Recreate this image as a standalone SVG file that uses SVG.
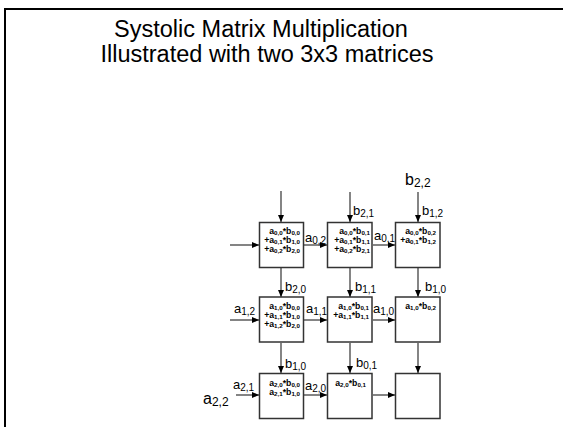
<svg xmlns="http://www.w3.org/2000/svg" width="563" height="427" viewBox="0 0 563 427">
<style>
text{font-family:"Liberation Sans",Arial,sans-serif;fill:#000}
.t{font-size:23.5px;text-anchor:middle}
.bt{font-size:8.7px;font-weight:bold;text-anchor:end}
.bs{font-size:6.2px}
.l{font-size:13px}
.ls{font-size:10px}
.L{font-size:16px}
.Ls{font-size:12px}
.box{fill:#fff;stroke:#333;stroke-width:1.5}
.c line{stroke:#333;stroke-width:1.2;marker-end:url(#ah)}
</style>
<defs>
<marker id="ah" markerUnits="userSpaceOnUse" markerWidth="7" markerHeight="6" refX="7" refY="3" orient="auto">
<path d="M0,0 L7,3 L0,6 z" fill="#000"/>
</marker>
</defs>
<rect width="563" height="427" fill="#fff"/>
<path d="M5,427 V9 H563" fill="none" stroke="#000" stroke-width="2"/>
<g id="title">
<text class="t" x="261" y="37">Systolic Matrix Multiplication</text>
<text class="t" x="267" y="62">Illustrated with two 3x3 matrices</text>
</g>
<g class="c" id="connectors">
<line x1="281" y1="191" x2="281" y2="222"/>
<line x1="350" y1="192" x2="350" y2="222"/>
<line x1="418" y1="192" x2="418" y2="222"/>
<line x1="230" y1="245" x2="259" y2="245"/>
<line x1="304" y1="245" x2="327" y2="245"/>
<line x1="373" y1="245" x2="395" y2="245"/>
<line x1="281" y1="268" x2="281" y2="297"/>
<line x1="350" y1="268" x2="350" y2="297"/>
<line x1="418" y1="268" x2="418" y2="297"/>
<line x1="230" y1="320" x2="259" y2="320"/>
<line x1="304" y1="320" x2="327" y2="320"/>
<line x1="373" y1="320" x2="395" y2="320"/>
<line x1="281" y1="343" x2="281" y2="373"/>
<line x1="350" y1="343" x2="350" y2="373"/>
<line x1="418" y1="343" x2="418" y2="373"/>
<line x1="236" y1="395" x2="259" y2="395"/>
<line x1="304" y1="395" x2="327" y2="395"/>
<line x1="373" y1="395" x2="395" y2="395"/>
</g>
<g id="labels">
<text class="L" x="405" y="185">b<tspan class="Ls" dy="2">2,2</tspan></text>
<text class="l" x="353" y="215">b<tspan class="ls" dy="2">2,1</tspan></text>
<text class="l" x="422" y="215">b<tspan class="ls" dy="2">1,2</tspan></text>
<text class="l" x="305" y="242">a<tspan class="ls" dy="2">0,2</tspan></text>
<text class="l" x="374" y="240">a<tspan class="ls" dy="2">0,1</tspan></text>
<text class="l" x="285" y="291">b<tspan class="ls" dy="2">2,0</tspan></text>
<text class="l" x="355" y="291">b<tspan class="ls" dy="2">1,1</tspan></text>
<text class="l" x="425" y="291">b<tspan class="ls" dy="2">1,0</tspan></text>
<text class="l" x="234" y="313">a<tspan class="ls" dy="2">1,2</tspan></text>
<text class="l" x="306" y="313">a<tspan class="ls" dy="2">1,1</tspan></text>
<text class="l" x="373" y="313">a<tspan class="ls" dy="2">1,0</tspan></text>
<text class="l" x="285" y="368">b<tspan class="ls" dy="2">1,0</tspan></text>
<text class="l" x="356" y="367">b<tspan class="ls" dy="2">0,1</tspan></text>
<text class="l" x="233" y="389">a<tspan class="ls" dy="2">2,1</tspan></text>
<text class="L" x="203" y="404">a<tspan class="Ls" dy="2">2,2</tspan></text>
<text class="l" x="305" y="390">a<tspan class="ls" dy="2">2,0</tspan></text>
</g>
<g id="pe00">
<rect class="box" x="259.5" y="222.5" width="44" height="45"/>
<text class="bt"><tspan x="300" y="234">a</tspan><tspan class="bs" dy="1">0,0</tspan><tspan dy="-1">*b</tspan><tspan class="bs" dy="1">0,0</tspan><tspan x="300" y="243">+a</tspan><tspan class="bs" dy="1">0,1</tspan><tspan dy="-1">*b</tspan><tspan class="bs" dy="1">1,0</tspan><tspan x="300" y="252">+a</tspan><tspan class="bs" dy="1">0,2</tspan><tspan dy="-1">*b</tspan><tspan class="bs" dy="1">2,0</tspan></text>
</g>
<g id="pe01">
<rect class="box" x="327.5" y="222.5" width="44.5" height="45"/>
<text class="bt"><tspan x="370" y="234">a</tspan><tspan class="bs" dy="1">0,0</tspan><tspan dy="-1">*b</tspan><tspan class="bs" dy="1">0,1</tspan><tspan x="370" y="243">+a</tspan><tspan class="bs" dy="1">0,1</tspan><tspan dy="-1">*b</tspan><tspan class="bs" dy="1">1,1</tspan><tspan x="370" y="252">+a</tspan><tspan class="bs" dy="1">0,2</tspan><tspan dy="-1">*b</tspan><tspan class="bs" dy="1">2,1</tspan></text>
</g>
<g id="pe02">
<rect class="box" x="395.5" y="222.5" width="44.5" height="45"/>
<text class="bt"><tspan x="436" y="234">a</tspan><tspan class="bs" dy="1">0,0</tspan><tspan dy="-1">*b</tspan><tspan class="bs" dy="1">0,2</tspan><tspan x="436" y="243">+a</tspan><tspan class="bs" dy="1">0,1</tspan><tspan dy="-1">*b</tspan><tspan class="bs" dy="1">1,2</tspan></text>
</g>
<g id="pe10">
<rect class="box" x="259.5" y="297" width="44" height="45"/>
<text class="bt"><tspan x="300" y="308.5">a</tspan><tspan class="bs" dy="1">1,0</tspan><tspan dy="-1">*b</tspan><tspan class="bs" dy="1">0,0</tspan><tspan x="300" y="317.5">+a</tspan><tspan class="bs" dy="1">1,1</tspan><tspan dy="-1">*b</tspan><tspan class="bs" dy="1">1,0</tspan><tspan x="300" y="326.5">+a</tspan><tspan class="bs" dy="1">1,2</tspan><tspan dy="-1">*b</tspan><tspan class="bs" dy="1">2,0</tspan></text>
</g>
<g id="pe11">
<rect class="box" x="327.5" y="297" width="44.5" height="45"/>
<text class="bt"><tspan x="369" y="308.5">a</tspan><tspan class="bs" dy="1">1,0</tspan><tspan dy="-1">*b</tspan><tspan class="bs" dy="1">0,1</tspan><tspan x="369" y="317.5">+a</tspan><tspan class="bs" dy="1">1,1</tspan><tspan dy="-1">*b</tspan><tspan class="bs" dy="1">1,1</tspan></text>
</g>
<g id="pe12">
<rect class="box" x="395.5" y="297" width="44.5" height="45"/>
<text class="bt"><tspan x="436" y="308.5">a</tspan><tspan class="bs" dy="1">1,0</tspan><tspan dy="-1">*b</tspan><tspan class="bs" dy="1">0,2</tspan></text>
</g>
<g id="pe20">
<rect class="box" x="259.5" y="373.5" width="44" height="45"/>
<text class="bt"><tspan x="300" y="385.5">a</tspan><tspan class="bs" dy="1">2,0</tspan><tspan dy="-1">*b</tspan><tspan class="bs" dy="1">0,0</tspan><tspan x="300" y="394.5">a</tspan><tspan class="bs" dy="1">2,1</tspan><tspan dy="-1">*b</tspan><tspan class="bs" dy="1">1,0</tspan></text>
</g>
<g id="pe21">
<rect class="box" x="327.5" y="373.5" width="44.5" height="45"/>
<text class="bt"><tspan x="366" y="385.5">a</tspan><tspan class="bs" dy="1">2,0</tspan><tspan dy="-1">*b</tspan><tspan class="bs" dy="1">0,1</tspan></text>
</g>
<g id="pe22">
<rect class="box" x="395.5" y="373.5" width="44.5" height="45"/>
</g>
</svg>
